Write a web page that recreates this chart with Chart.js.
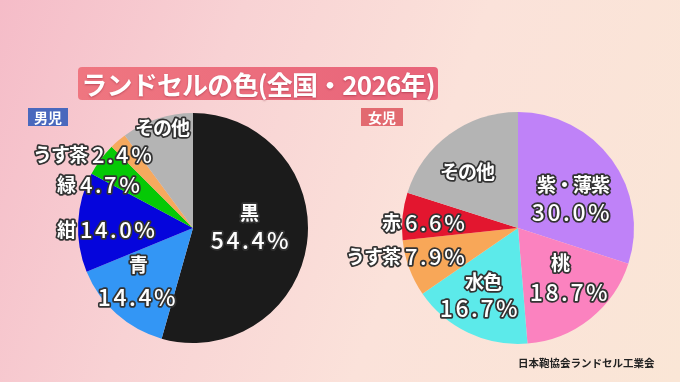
<!DOCTYPE html>
<html lang="ja">
<head>
<meta charset="utf-8">
<script src="https://cdn.jsdelivr.net/npm/chart.js@4"></script>
<style>
  html, body { margin: 0; padding: 0; }
  body {
    width: 680px; height: 382px; overflow: hidden; position: relative;
    background: linear-gradient(110deg, #f5bcc8 0%, #f8d2d4 30%, #fbe2da 60%, #fae6d6 100%);
    font-family: "Noto Sans CJK JP", "Noto Sans", sans-serif;
  }
  canvas { position: absolute; left: 0; top: 0; }
  #title {
    position: absolute; left: 78px; top: 67px; width: 360px; height: 33px;
    border-radius: 4px;
    background: linear-gradient(90deg, #ef7680, #e8647a);
    color: #fff; font-weight: 700; font-size: 26px; line-height: 33px;
    text-align: center; letter-spacing: -0.8px;
    text-shadow: 0 1px 2px rgba(120,20,40,0.4);
  }
  .tag {
    position: absolute; top: 108px; height: 18px; line-height: 18px;
    color: #fff; font-weight: 700; font-size: 14px; text-align: center;
  }
  #boy { left: 28px; width: 40px; background: #4a68bd; }
  #girl { left: 361px; width: 42px; background: #e26a70; }
  #source {
    position: absolute; left: 518px; top: 355px; font-size: 10.5px;
    font-weight: 700; color: #222; white-space: nowrap;
  }
</style>
</head>
<body>
<canvas id="boyChart" width="680" height="382"></canvas>
<canvas id="girlChart" width="680" height="382"></canvas>
<div id="title">ランドセルの色(全国・2026年)</div>
<div class="tag" id="boy">男児</div>
<div class="tag" id="girl">女児</div>
<div id="source">日本鞄協会ランドセル工業会</div>
<script>
// 男児
const boyLabels = ['黒', '青', '紺', '緑', 'うす茶', 'その他'];
const boyValues = [54.4, 14.4, 14.0, 4.7, 2.4, 10.1];
const boyColors = ['#1b1b1b', '#3396f5', '#0505dc', '#05c905', '#f6a95e', '#b4b4b4'];
const boyShowPct = [true, true, true, true, true, false];

// 女児
const girlLabels = ['紫・薄紫', '桃', '水色', 'うす茶', '赤', 'その他'];
const girlValues = [30.0, 18.7, 16.7, 7.9, 6.6, 20.1];
const girlColors = ['#bf82f8', '#fb82bf', '#5ceaea', '#f8a758', '#e3162f', '#b4b4b4'];
const girlShowPct = [true, true, true, true, true, false];

// label layout relative to pie centre: name pos, pct pos, inline = name to the left of pct
const boyLayout = [
  { n: [56, -15], p: [58, 12] },
  { n: [-55, 37], p: [-55, 69] },
  { inline: true, p: [-113, 2] },
  { inline: true, p: [-113, -43] },
  { inline: true, p: [-101, -73] },
  { n: [-31, -100] }
];
const girlLayout = [
  { n: [55, -43], p: [54, -16] },
  { n: [42, 35], p: [52, 64] },
  { n: [-35, 54], p: [-38, 80] },
  { inline: true, p: [-113, 29] },
  { inline: true, p: [-113, -5] },
  { n: [-51, -56] }
];

function outlined(ctx, text, x, y, weight, size, spacing) {
  ctx.font = weight + ' ' + size + 'px "Noto Sans CJK JP", sans-serif';
  ctx.letterSpacing = spacing + 'px';
  ctx.lineJoin = 'round';
  ctx.lineWidth = 3.5;
  ctx.strokeStyle = '#333';
  ctx.strokeText(text, x, y);
  ctx.fillStyle = '#fff';
  ctx.fillText(text, x, y);
}

const labelPlugin = {
  id: 'sliceLabels',
  afterDraw(chart, args, opts) {
    const ctx = chart.ctx;
    const meta = chart.getDatasetMeta(0);
    const cx = meta.data[0].x, cy = meta.data[0].y;
    const vals = chart.data.datasets[0].data;
    ctx.save();
    ctx.textBaseline = 'middle';
    opts.layout.forEach((L, i) => {
      const name = chart.data.labels[i];
      const pct = vals[i].toFixed(1) + '%';
      if (L.inline) {
        ctx.textAlign = 'right';
        outlined(ctx, name, cx + L.p[0] - 5, cy + L.p[1], 700, 19, -1);
        ctx.textAlign = 'left';
        outlined(ctx, pct, cx + L.p[0], cy + L.p[1], 500, 22, 2.5);
      } else {
        ctx.textAlign = 'center';
        outlined(ctx, name, cx + L.n[0], cy + L.n[1], 700, 19, -1);
        if (opts.showPct[i]) outlined(ctx, pct, cx + L.p[0], cy + L.p[1], 500, 23, 2.5);
      }
    });
    ctx.restore();
  }
};

function makePie(id, labels, values, colors, layout, showPct, pad) {
  new Chart(document.getElementById(id), {
    type: 'pie',
    data: {
      labels: labels,
      datasets: [{ data: values, backgroundColor: colors, borderWidth: 0 }]
    },
    options: {
      responsive: false,
      animation: false,
      layout: { padding: pad },
      plugins: {
        legend: { display: false },
        tooltip: { enabled: false },
        sliceLabels: { layout: layout, showPct: showPct }
      }
    },
    plugins: [labelPlugin]
  });
}

makePie('boyChart', boyLabels, boyValues, boyColors, boyLayout, boyShowPct,
  { left: 78, right: 372, top: 113, bottom: 39 });
makePie('girlChart', girlLabels, girlValues, girlColors, girlLayout, girlShowPct,
  { left: 402, right: 46, top: 112, bottom: 38 });
</script>
</body>
</html>
